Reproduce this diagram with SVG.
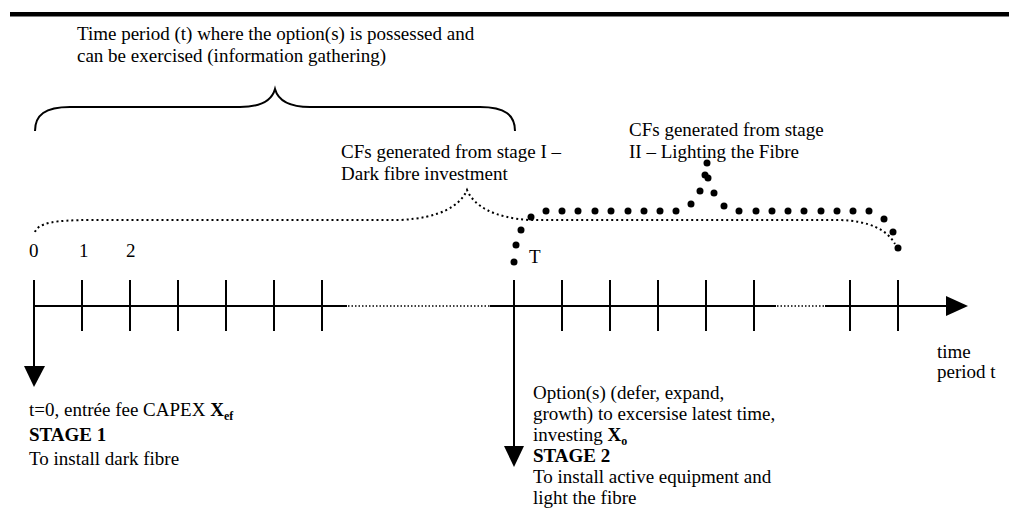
<svg xmlns="http://www.w3.org/2000/svg" width="1009" height="513" viewBox="0 0 1009 513">
<style>
text{font-family:"Liberation Serif","Times New Roman",serif;font-size:19px;fill:#000}
.b{font-weight:bold}
.ln{stroke:#000;stroke-width:2;fill:none}
.dot{fill:#000}
.sd{stroke:#000;stroke-width:2;fill:none;stroke-dasharray:2 3}
.ad{stroke:#000;stroke-width:1.5;fill:none;stroke-dasharray:1.5 2}
</style>
<defs>
<g id="tick"><line x1="0" y1="280" x2="0" y2="331" stroke="#000" stroke-width="2"/></g>
</defs>
<rect width="1009" height="513" fill="#fff"/>
<rect x="10" y="12" width="999" height="4.5" fill="#000"/>

<g id="top-label">
<text x="77" y="40">Time period (t) where the option(s) is possessed and</text>
<text x="77" y="62">can be exercised (information gathering)</text>
</g>

<g id="brace">
<path class="ln" d="M35,131 C35,115 45,107 70,107 L240,107 C262,107 272,100 275,89 C278,100 288,107 310,107 L480,107 C505,107 515,115 515,131"/>
</g>

<g id="cf-stage1">
<text x="341" y="158">CFs generated from stage I –</text>
<text x="341" y="180">Dark fibre investment</text>
<path class="sd" d="M35,232 C38,223 55,220 90,220 L400,220 C440,218 460,206 467,190 C474,206 494,218 530,220 L840,220 C870,221 887,230 895,244"/>
</g>

<g id="cf-stage2">
<text x="629" y="136">CFs generated from stage</text>
<text x="629" y="158">II – Lighting the Fibre</text>
<g class="dot">
<circle cx="514" cy="262" r="3.5"/><circle cx="516" cy="245" r="3.5"/><circle cx="521" cy="230" r="3.5"/><circle cx="531" cy="217" r="3.5"/>
<circle cx="546" cy="211" r="3.5"/><circle cx="562" cy="211" r="3.5"/><circle cx="578" cy="211" r="3.5"/><circle cx="595" cy="211" r="3.5"/><circle cx="611" cy="211" r="3.5"/><circle cx="628" cy="211" r="3.5"/><circle cx="644" cy="211" r="3.5"/><circle cx="660" cy="211" r="3.5"/><circle cx="676" cy="211" r="3.5"/>
<circle cx="691" cy="204" r="3.5"/><circle cx="700" cy="191" r="3.5"/><circle cx="705" cy="175" r="3.5"/><circle cx="708" cy="178" r="3.5"/><circle cx="707" cy="163" r="3.5"/>
<circle cx="714" cy="193" r="3.5"/><circle cx="724" cy="206" r="3.5"/>
<circle cx="739" cy="211" r="3.5"/><circle cx="756" cy="211" r="3.5"/><circle cx="772" cy="211" r="3.5"/><circle cx="788" cy="211" r="3.5"/><circle cx="804" cy="211" r="3.5"/><circle cx="821" cy="211" r="3.5"/><circle cx="837" cy="211" r="3.5"/><circle cx="853" cy="211" r="3.5"/><circle cx="869" cy="211" r="3.5"/>
<circle cx="884" cy="219" r="3.5"/><circle cx="893" cy="232" r="3.5"/><circle cx="898" cy="248" r="3.5"/>
</g>
</g>

<g id="axis-labels">
<text x="29" y="257">0</text>
<text x="79" y="257">1</text>
<text x="126" y="257">2</text>
<text x="529" y="263">T</text>
<text x="937" y="358">time</text>
<text x="937" y="378">period t</text>
</g>

<g id="connectors">
<line class="ln" x1="34" y1="306" x2="347" y2="306"/>
<line class="ad" x1="348" y1="306" x2="490" y2="306"/>
<line class="ln" x1="490" y1="306" x2="776" y2="306"/>
<line class="ad" x1="777" y1="306" x2="825" y2="306"/>
<line class="ln" x1="825" y1="306" x2="948" y2="306"/>
<polygon points="946,296 968,306 946,316" fill="#000"/>
<use href="#tick" x="34"/><use href="#tick" x="82"/><use href="#tick" x="130"/><use href="#tick" x="178"/><use href="#tick" x="226"/><use href="#tick" x="274"/><use href="#tick" x="322"/>
<use href="#tick" x="514"/><use href="#tick" x="562"/><use href="#tick" x="610"/><use href="#tick" x="658"/><use href="#tick" x="706"/><use href="#tick" x="754"/><use href="#tick" x="850"/><use href="#tick" x="898"/>
<line class="ln" x1="34" y1="306" x2="34" y2="368"/>
<polygon points="24,366 45,366 34,387" fill="#000"/>
<line class="ln" x1="514" y1="331" x2="514" y2="448"/>
<polygon points="504,446 524,446 514,467" fill="#000"/>
</g>

<g id="stage1">
<text x="29" y="416">t=0, entrée fee CAPEX <tspan class="b">X</tspan><tspan class="b" font-size="12" dy="4">ef</tspan></text>
<text x="29" y="441" class="b" font-size="21">STAGE 1</text>
<text x="29" y="465" font-size="21">To install dark fibre</text>
</g>

<g id="stage2">
<text x="533" y="399">Option(s) (defer, expand,</text>
<text x="533" y="420">growth) to excersise latest time,</text>
<text x="533" y="441">investing <tspan class="b">X</tspan><tspan class="b" font-size="12" dy="4">o</tspan></text>
<text x="533" y="462" class="b" font-size="21">STAGE 2</text>
<text x="533" y="483">To install active equipment and</text>
<text x="533" y="504">light the fibre</text>
</g>
</svg>
